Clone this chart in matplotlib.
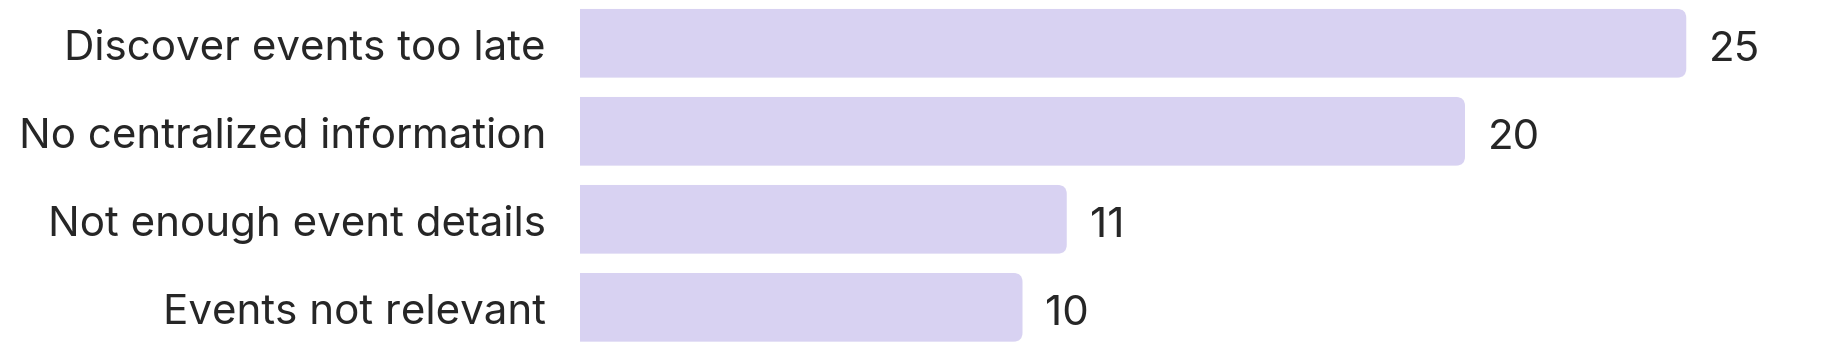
import matplotlib
matplotlib.use("Agg")
import matplotlib.pyplot as plt
from matplotlib.patches import FancyBboxPatch
import matplotlib.transforms as mtransforms

categories = ["Discover events too late", "No centralized information",
              "Not enough event details", "Events not relevant"]
values = [25, 20, 11, 10]

BAR_COLOR = "#D8D2F2"
TEXT_COLOR = "#262626"
FONT = ["Inter", "DejaVu Sans"]
FS = 30.3
WEIGHT = "normal"

W, H, DPI = 1840, 364, 100
fig = plt.figure(figsize=(W / DPI, H / DPI), dpi=DPI)
ax_left = 580
ax = fig.add_axes([ax_left / W, 0, 1 - ax_left / W, 1])
px_per_x = 44.25
ax.set_xlim(0, (W - ax_left) / px_per_x)
ax.set_ylim(3.644, -0.492)

ypos = list(range(len(categories)))
bar_h = 0.78
bars = ax.barh(ypos, values, height=bar_h, color=BAR_COLOR, linewidth=0)

r_px = 9
r_x = r_px / px_per_x
r_y = r_px / 88.0
ext = 3 * r_x  # extend left beyond the axes edge; clipped so left corners are square
for b in bars:
    x0, y0 = b.get_x(), b.get_y()
    w, h = b.get_width(), b.get_height()
    b.set_visible(False)
    p = FancyBboxPatch((x0 - ext, y0), w + ext, h,
                       boxstyle=f"round,pad=0,rounding_size={r_x}",
                       mutation_aspect=r_y / r_x,
                       facecolor=BAR_COLOR, edgecolor="none")
    ax.add_patch(p)
    p.set_clip_path(ax.patch)

for y, v in zip(ypos, values):
    ax.annotate(str(v), xy=(v, y), xytext=(16.5, -2), textcoords="offset points",
                va="center_baseline", ha="left", fontsize=FS, family=FONT,
                weight=WEIGHT, color=TEXT_COLOR)

ax.set_yticks(ypos)
ax.set_yticklabels(categories, family=FONT, fontsize=FS, color=TEXT_COLOR,
                   weight=WEIGHT)
for t in ax.get_yticklabels():
    t.set_va("center_baseline")
ax.tick_params(axis="y", length=0, pad=24.5)
ax.set_xticks([])
for s in ax.spines.values():
    s.set_visible(False)
ax.patch.set_alpha(0)

off = mtransforms.ScaledTranslation(0, -1.0 / 72, fig.dpi_scale_trans)
for t in ax.get_yticklabels():
    t.set_transform(t.get_transform() + off)

fig.savefig("out.png", dpi=DPI, facecolor="white")
